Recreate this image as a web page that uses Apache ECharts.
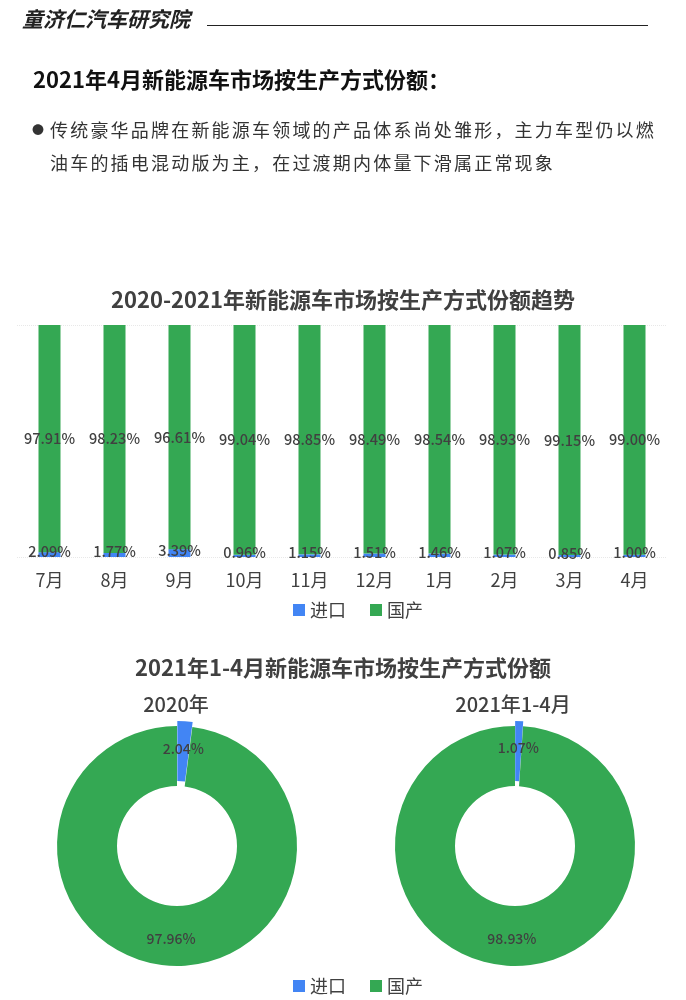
<!DOCTYPE html>
<html>
<head>
<meta charset="utf-8">
<script src="https://cdn.jsdelivr.net/npm/echarts@6/dist/echarts.min.js"></script>
<style>
  html, body { margin: 0; padding: 0; background: #fff; }
  body { width: 686px; height: 1000px; position: relative; font-family: 'Noto Sans CJK SC', sans-serif; }
  #chart { position: absolute; left: 0; top: 0; width: 686px; height: 1000px; }
  .brand { position: absolute; left: 22px; top: 3px; font-size: 21px; font-weight: bold; font-style: italic; color: #222; }
  .rule { position: absolute; left: 207px; top: 25px; width: 441px; height: 0; border-top: 1px solid #222; }
  .head { position: absolute; left: 33px; top: 62px; font-size: 22px; font-weight: bold; color: #111; }
  .bullet { position: absolute; left: 32px; top: 113px; font-size: 18px; letter-spacing: 2.2px; line-height: 33px; color: #333; }
  .bullet span { display: inline-block; width: 18px; font-size: 12px; vertical-align: 2px; }
  .bullet .l2 { padding-left: 18px; }
</style>
</head>
<body>
<div id="chart"></div>
<div class="brand">童济仁汽车研究院</div>
<div class="rule"></div>
<div class="head">2021年4月新能源车市场按生产方式份额：</div>
<div class="bullet"><span>●</span>传统豪华品牌在新能源车领域的产品体系尚处雏形，主力车型仍以燃<br><div class="l2">油车的插电混动版为主，在过渡期内体量下滑属正常现象</div></div>
<script>
// 月度份额（%）
const months = ['7月', '8月', '9月', '10月', '11月', '12月', '1月', '2月', '3月', '4月'];
const importShare = [2.09, 1.77, 3.39, 0.96, 1.15, 1.51, 1.46, 1.07, 0.85, 1.00];
const domesticShare = [97.91, 98.23, 96.61, 99.04, 98.85, 98.49, 98.54, 98.93, 99.15, 99.00];

// 年度份额（%）
const pieNames = ['进口', '国产'];
const share2020 = [2.04, 97.96];
const share2021 = [1.07, 98.93];

const BLUE = '#4285f4';
const GREEN = '#34a853';
const TXT = '#404040';
const FONT = 'Noto Sans CJK SC';

const chart = echarts.init(document.getElementById('chart'));

const pieData = vals => vals.map((v, i) => ({
  name: pieNames[i],
  value: v,
  selected: i === 0,
  itemStyle: { color: i === 0 ? BLUE : GREEN }
}));

const pieSeries = (center, vals) => ({
  type: 'pie',
  center: center,
  radius: [60, 120],
  startAngle: 90,
  clockwise: true,
  selectedMode: 'single',
  selectedOffset: 5,
  avoidLabelOverlap: false,
  label: {
    position: 'inside',
    formatter: p => p.value.toFixed(2) + '%',
    color: TXT,
    fontSize: 14,
    fontWeight: 500,
    fontFamily: FONT
  },
  labelLine: { show: false },
  emphasis: { disabled: true },
  data: pieData(vals)
});

const legendOpt = top => ({
  data: ['进口', '国产'], top: top, left: 288, icon: 'rect', itemWidth: 12, itemHeight: 12, itemGap: 24,
  textStyle: { fontSize: 18, color: TXT, fontFamily: FONT }, selectedMode: false
});

chart.setOption({
  textStyle: { fontFamily: FONT },
  animation: false,
  title: [
    { text: '2020-2021年新能源车市场按生产方式份额趋势', left: 'center', top: 284,
      textStyle: { fontSize: 22, fontWeight: 'bold', color: TXT, fontFamily: FONT } },
    { text: '2021年1-4月新能源车市场按生产方式份额', left: 'center', top: 652,
      textStyle: { fontSize: 22, fontWeight: 'bold', color: TXT, fontFamily: FONT } },
    { text: '2020年', left: 171, top: 689, textAlign: 'center',
      textStyle: { fontSize: 20, fontWeight: 500, color: TXT, fontFamily: FONT } },
    { text: '2021年1-4月', left: 508, top: 689, textAlign: 'center',
      textStyle: { fontSize: 20, fontWeight: 500, color: TXT, fontFamily: FONT } }
  ],
  legend: [legendOpt(596), legendOpt(972)],
  grid: { left: 17, width: 650, top: 325, height: 232 },
  xAxis: {
    type: 'category',
    data: months,
    axisLine: { show: false },
    axisTick: { show: false },
    axisLabel: { fontSize: 18, color: TXT, margin: 14, fontFamily: FONT }
  },
  yAxis: {
    type: 'value',
    min: 0, max: 100, interval: 100,
    axisLabel: { show: false },
    splitLine: { lineStyle: { color: '#e8e8e8', type: 'dotted', width: 1 } }
  },
  series: [
    {
      name: '进口', type: 'bar', stack: 'share', barWidth: 22,
      itemStyle: { color: BLUE },
      label: { show: true, position: 'inside', offset: [0, -3], formatter: p => p.value.toFixed(2) + '%',
        color: TXT, fontSize: 14.5, fontWeight: 500, fontFamily: FONT },
      data: importShare
    },
    {
      name: '国产', type: 'bar', stack: 'share', barWidth: 22,
      itemStyle: { color: GREEN },
      label: { show: true, position: 'inside', formatter: p => p.value.toFixed(2) + '%',
        color: TXT, fontSize: 14.5, fontWeight: 500, fontFamily: FONT },
      data: domesticShare
    },
    pieSeries([177, 846], share2020),
    pieSeries([515, 846], share2021)
  ]
});
</script>
</body>
</html>
